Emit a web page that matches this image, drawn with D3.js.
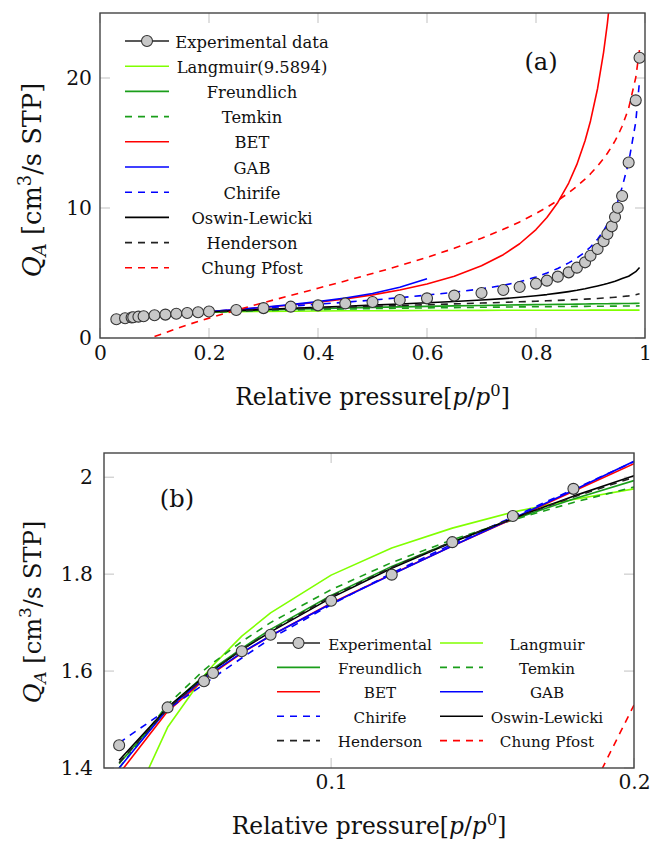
<!DOCTYPE html>
<html><head><meta charset="utf-8">
<script src="https://cdn.jsdelivr.net/npm/d3@7"></script>
<style>
body{margin:0;background:#fff}
svg{display:block}
text{font-family:"DejaVu Serif","Liberation Serif",serif;fill:#111}
</style>
</head><body>
<svg id="chart" width="651" height="843"></svg>
<script>
// ---------------- DATA ----------------
const pressure=[0.03,0.046,0.058,0.061,0.0705,0.08,0.1,0.12,0.14,0.16,0.18,0.2,0.25,0.3,0.35,0.4,0.45,0.5,0.55,0.6,0.65,0.7,0.74,0.77,0.8,0.82,0.84,0.86,0.875,0.89,0.9,0.913,0.924,0.931,0.939,0.945,0.95,0.958,0.97,0.983,0.99];
const experimental=[1.447,1.525,1.579,1.596,1.641,1.675,1.745,1.799,1.866,1.920,1.976,2.04,2.15,2.30,2.41,2.51,2.66,2.77,2.92,3.05,3.26,3.46,3.69,3.92,4.18,4.41,4.72,5.05,5.41,5.82,6.33,6.85,7.44,8.0,8.59,9.31,10.02,10.92,13.5,18.28,21.56];
const langmuir=[1.266,1.484,1.590,1.612,1.672,1.720,1.798,1.854,1.895,1.928,1.954,1.976,2.016,2.043,2.063,2.079,2.091,2.101,2.109,2.116,2.121,2.126,2.130,2.132,2.134,2.136,2.137,2.138,2.139,2.140,2.141,2.141,2.142,2.142,2.143,2.143,2.143,2.144,2.144,2.145,2.145];
const freundlich=[1.409,1.524,1.590,1.605,1.647,1.686,1.756,1.816,1.867,1.913,1.955,1.993,2.076,2.146,2.207,2.261,2.310,2.355,2.397,2.435,2.471,2.505,2.530,2.548,2.566,2.578,2.589,2.601,2.609,2.617,2.622,2.629,2.635,2.638,2.643,2.646,2.648,2.652,2.658,2.665,2.668];
const temkin=[1.400,1.531,1.602,1.617,1.661,1.700,1.768,1.824,1.871,1.912,1.948,1.980,2.048,2.104,2.151,2.192,2.228,2.260,2.289,2.316,2.340,2.363,2.380,2.392,2.404,2.411,2.419,2.426,2.431,2.436,2.440,2.444,2.448,2.450,2.453,2.455,2.456,2.459,2.463,2.467,2.469];
const bet=[1.388,1.517,1.582,1.596,1.637,1.673,1.740,1.800,1.858,1.914,1.971,2.028,2.179,2.346,2.536,2.754,3.011,3.317,3.691,4.157,4.755,5.552,6.410,7.249,8.340,9.268,10.429,11.921,13.354,15.177,16.696,19.193,21.974,24.204,27.38,30.37,33.41,39.77,55.69,98.3,167.1];
const gab=[1.400,1.522,1.584,1.598,1.638,1.673,1.739,1.799,1.858,1.915,1.973,2.033,2.19,2.37,2.57,2.80,3.08,3.42,3.90,4.55,null,null,null,null,null,null,null,null,null,null,null,null,null,null,null,null,null,null,null,null,null];
const chirife=[1.452,1.521,1.573,1.586,1.627,1.667,1.737,1.802,1.862,1.918,1.975,2.032,2.17,2.31,2.45,2.60,2.75,2.92,3.10,3.30,3.52,3.78,4.05,4.32,4.70,5.00,5.35,5.78,6.15,6.62,7.0,7.6,8.25,8.75,9.4,9.9,10.5,11.6,13.5,16.6,19.8];
const oswinLewicki=[1.416,1.525,1.588,1.602,1.644,1.681,1.751,1.812,1.866,1.915,1.961,2.003,2.102,2.191,2.276,2.358,2.439,2.53,2.62,2.71,2.81,2.92,3.03,3.13,3.25,3.34,3.45,3.57,3.67,3.79,3.88,4.0,4.11,4.19,4.29,4.37,4.45,4.57,4.75,5.1,5.42];
const henderson=[1.411,1.522,1.587,1.602,1.644,1.683,1.754,1.814,1.867,1.915,1.959,2.000,2.091,2.172,2.245,2.313,2.377,2.440,2.501,2.562,2.624,2.688,2.742,2.784,2.829,2.860,2.894,2.930,2.958,2.990,3.012,3.043,3.072,3.092,3.116,3.136,3.154,3.186,3.243,3.329,3.401];
const chungPfost=[null,null,null,null,null,null,0.12,0.41,0.72,1.00,1.28,1.53,2.14,2.72,3.27,3.83,4.39,4.96,5.56,6.20,6.90,7.67,8.36,8.93,9.58,10.05,10.58,11.17,11.67,12.22,12.63,13.23,13.80,14.21,14.73,15.16,15.56,16.29,17.67,20.02,22.19];

const topXTicks=[0,0.2,0.4,0.6,0.8,1];
const topYTicks=[0,10,20];
const botXTicks=[0.1,0.2];
const botYTicks=[1.4,1.6,1.8,2];

// ---------------- STYLES ----------------
const models=[
  {name:"Langmuir(9.5894)",short:"Langmuir",values:langmuir,color:"#80ff00",dash:null},
  {name:"Freundlich",short:"Freundlich",values:freundlich,color:"#1a9e1a",dash:null},
  {name:"Temkin",short:"Temkin",values:temkin,color:"#1a9e1a",dash:"7,6"},
  {name:"BET",short:"BET",values:bet,color:"#ff0000",dash:null},
  {name:"GAB",short:"GAB",values:gab,color:"#0000ff",dash:null},
  {name:"Chirife",short:"Chirife",values:chirife,color:"#0000ff",dash:"7,6"},
  {name:"Oswin-Lewicki",short:"Oswin-Lewicki",values:oswinLewicki,color:"#000000",dash:null},
  {name:"Henderson",short:"Henderson",values:henderson,color:"#222222",dash:"7,6"},
  {name:"Chung Pfost",short:"Chung Pfost",values:chungPfost,color:"#ff0000",dash:"7,6"}
];
const LW=1.6, MR=5.5, MFILL="#c8c8c8", MSTROKE="#333";
const svg=d3.select("#chart");

// sizes below are given in Times-metric terms; scale them to the font actually used
const probe=svg.append("text").attr("font-size",100).text("Experimental data");
const FS=730.4/probe.node().getComputedTextLength();
probe.remove();
const fs=v=>v*FS;

function panel(o){
  const x=d3.scaleLinear().domain(o.xd).range([o.left,o.right]);
  const y=d3.scaleLinear().domain(o.yd).range([o.bottom,o.top]);
  const g=svg.append("g");
  g.append("clipPath").attr("id",o.id).append("rect")
    .attr("x",o.left).attr("y",o.top).attr("width",o.right-o.left).attr("height",o.bottom-o.top);
  const tk=g.append("g").attr("stroke","#cccccc").attr("stroke-width",1.2);
  o.xt.forEach(v=>{
    tk.append("line").attr("x1",x(v)).attr("x2",x(v)).attr("y1",o.bottom).attr("y2",o.bottom-10);
    tk.append("line").attr("x1",x(v)).attr("x2",x(v)).attr("y1",o.top).attr("y2",o.top+10);
  });
  o.yt.forEach(v=>{
    tk.append("line").attr("y1",y(v)).attr("y2",y(v)).attr("x1",o.left).attr("x2",o.left+10);
    tk.append("line").attr("y1",y(v)).attr("y2",y(v)).attr("x1",o.right).attr("x2",o.right-10);
  });
  const plot=g.append("g").attr("clip-path",`url(#${o.id})`);
  const line=d3.line().defined(d=>d[1]!=null).x(d=>x(d[0])).y(d=>y(d[1]));
  models.forEach(m=>{
    const pts=pressure.map((p,i)=>[p,m.values[i]]).filter(d=>d[0]<=o.pmax);
    plot.append("path").datum(pts).attr("d",line).attr("fill","none")
      .attr("stroke",m.color).attr("stroke-width",LW)
      .attr("stroke-dasharray",m.dash).attr("stroke-linejoin","round");
  });
  const pts=pressure.map((p,i)=>[p,experimental[i]]).filter(d=>d[0]<=o.mmax);
  plot.selectAll("circle.m").data(pts).enter().append("circle").attr("class","m")
    .attr("cx",d=>x(d[0])).attr("cy",d=>y(d[1])).attr("r",MR)
    .attr("fill",MFILL).attr("stroke",MSTROKE).attr("stroke-width",1.1);
  g.append("rect").attr("x",o.left).attr("y",o.top).attr("width",o.right-o.left).attr("height",o.bottom-o.top)
    .attr("fill","none").attr("stroke","#444").attr("stroke-width",1.4);
  const tf=fs(o.tickFont);
  const ax=g.append("g").attr("transform",`translate(0,${o.bottom})`)
    .call(d3.axisBottom(x).tickValues(o.xt).tickFormat(o.fx).tickSize(0).tickPadding(o.xPad));
  ax.select(".domain").remove();
  const ay=g.append("g").attr("transform",`translate(${o.left},0)`)
    .call(d3.axisLeft(y).tickValues(o.yt).tickFormat(o.fy).tickSize(0).tickPadding(o.yPad));
  ay.select(".domain").remove();
  [ax,ay].forEach(a=>a.selectAll("text").attr("font-size",tf).attr("fill","#111"));
  const T=fs(o.titleFont);
  const xt=g.append("text").attr("x",(o.left+o.right)/2).attr("y",o.xTitleY).attr("text-anchor","middle").attr("font-size",T);
  xt.append("tspan").text("Relative pressure[");
  xt.append("tspan").attr("font-style","italic").text("p");
  xt.append("tspan").text("/");
  xt.append("tspan").attr("font-style","italic").text("p");
  xt.append("tspan").attr("font-size","70%").attr("dy",-0.4*T).text("0");
  xt.append("tspan").attr("dy",0.4*T).text("]");
  const Y=fs(o.yTitleFont);
  const yt=g.append("text").attr("transform",`translate(${o.yTitleX},${o.yTitleC}) rotate(-90)`)
    .attr("text-anchor","middle").attr("font-size",Y);
  yt.append("tspan").attr("font-style","italic").text("Q");
  yt.append("tspan").attr("font-style","italic").attr("font-size","70%").attr("dy",0.2*Y).text("A");
  yt.append("tspan").attr("dy",-0.2*Y).text(" [cm");
  yt.append("tspan").attr("font-size","70%").attr("dy",-0.4*Y).text("3");
  yt.append("tspan").attr("dy",0.4*Y).text("/s STP]");
  g.append("text").attr("x",o.tagX).attr("y",o.tagY).attr("text-anchor","middle").attr("font-size",fs(31)).text(o.tag);
  return {x,y,g};
}

const panelA=panel({id:"clipA",left:100,right:645,top:13,bottom:338,xd:[0,1],yd:[0,25],
  xt:topXTicks,yt:topYTicks,fx:d=>d===0?"0":d===1?"1":String(d),fy:d=>String(d),
  pmax:1,mmax:1,tickFont:26,titleFont:30,yTitleFont:33,xPad:8,yPad:8,xTitleY:405,yTitleX:41,yTitleC:180,tag:"(a)",tagX:541,tagY:70});
const panelB=panel({id:"clipB",left:104,right:634,top:453,bottom:768,xd:[0.025,0.2],yd:[1.4,2.05],
  xt:botXTicks,yt:botYTicks,fx:d=>String(d),fy:d=>d===2?"2":d.toFixed(1),
  pmax:0.2,mmax:0.19,tickFont:26,titleFont:30,yTitleFont:31,xPad:7,yPad:11,xTitleY:834,yTitleX:41,yTitleC:612,tag:"(b)",tagX:177,tagY:507});

function sample(g,x1,x2,yy,m,marker){
  g.append("line").attr("x1",x1).attr("x2",x2).attr("y1",yy).attr("y2",yy)
    .attr("stroke",m?m.color:"#222").attr("stroke-width",LW).attr("stroke-dasharray",m?m.dash:null);
  if(marker) g.append("circle").attr("cx",(x1+x2)/2).attr("cy",yy).attr("r",MR)
    .attr("fill",MFILL).attr("stroke",MSTROKE).attr("stroke-width",1.1);
}
const legA=svg.append("g");
const itemsA=[{label:"Experimental data",m:null,marker:true}].concat(models.map(m=>({label:m.name,m,marker:false})));
itemsA.forEach((it,i)=>{
  const yy=41+i*25.2;
  sample(legA,125,169,yy,it.m,it.marker);
  legA.append("text").attr("x",252).attr("y",yy+6.5).attr("text-anchor","middle").attr("font-size",fs(21)).text(it.label);
});
const legB=svg.append("g");
const itemsB=[{label:"Experimental",m:null,marker:true}].concat(models.map(m=>({label:m.short,m,marker:false})));
itemsB.forEach((it,i)=>{
  const col=i%2,row=Math.floor(i/2);
  const yy=643+row*24.4;
  const sx=col===0?277:440, tx=col===0?380:547;
  sample(legB,sx,sx+43,yy,it.m,it.marker);
  legB.append("text").attr("x",tx).attr("y",yy+6.5).attr("text-anchor","middle").attr("font-size",fs(19.5)).text(it.label);
});
</script>
</body></html>
